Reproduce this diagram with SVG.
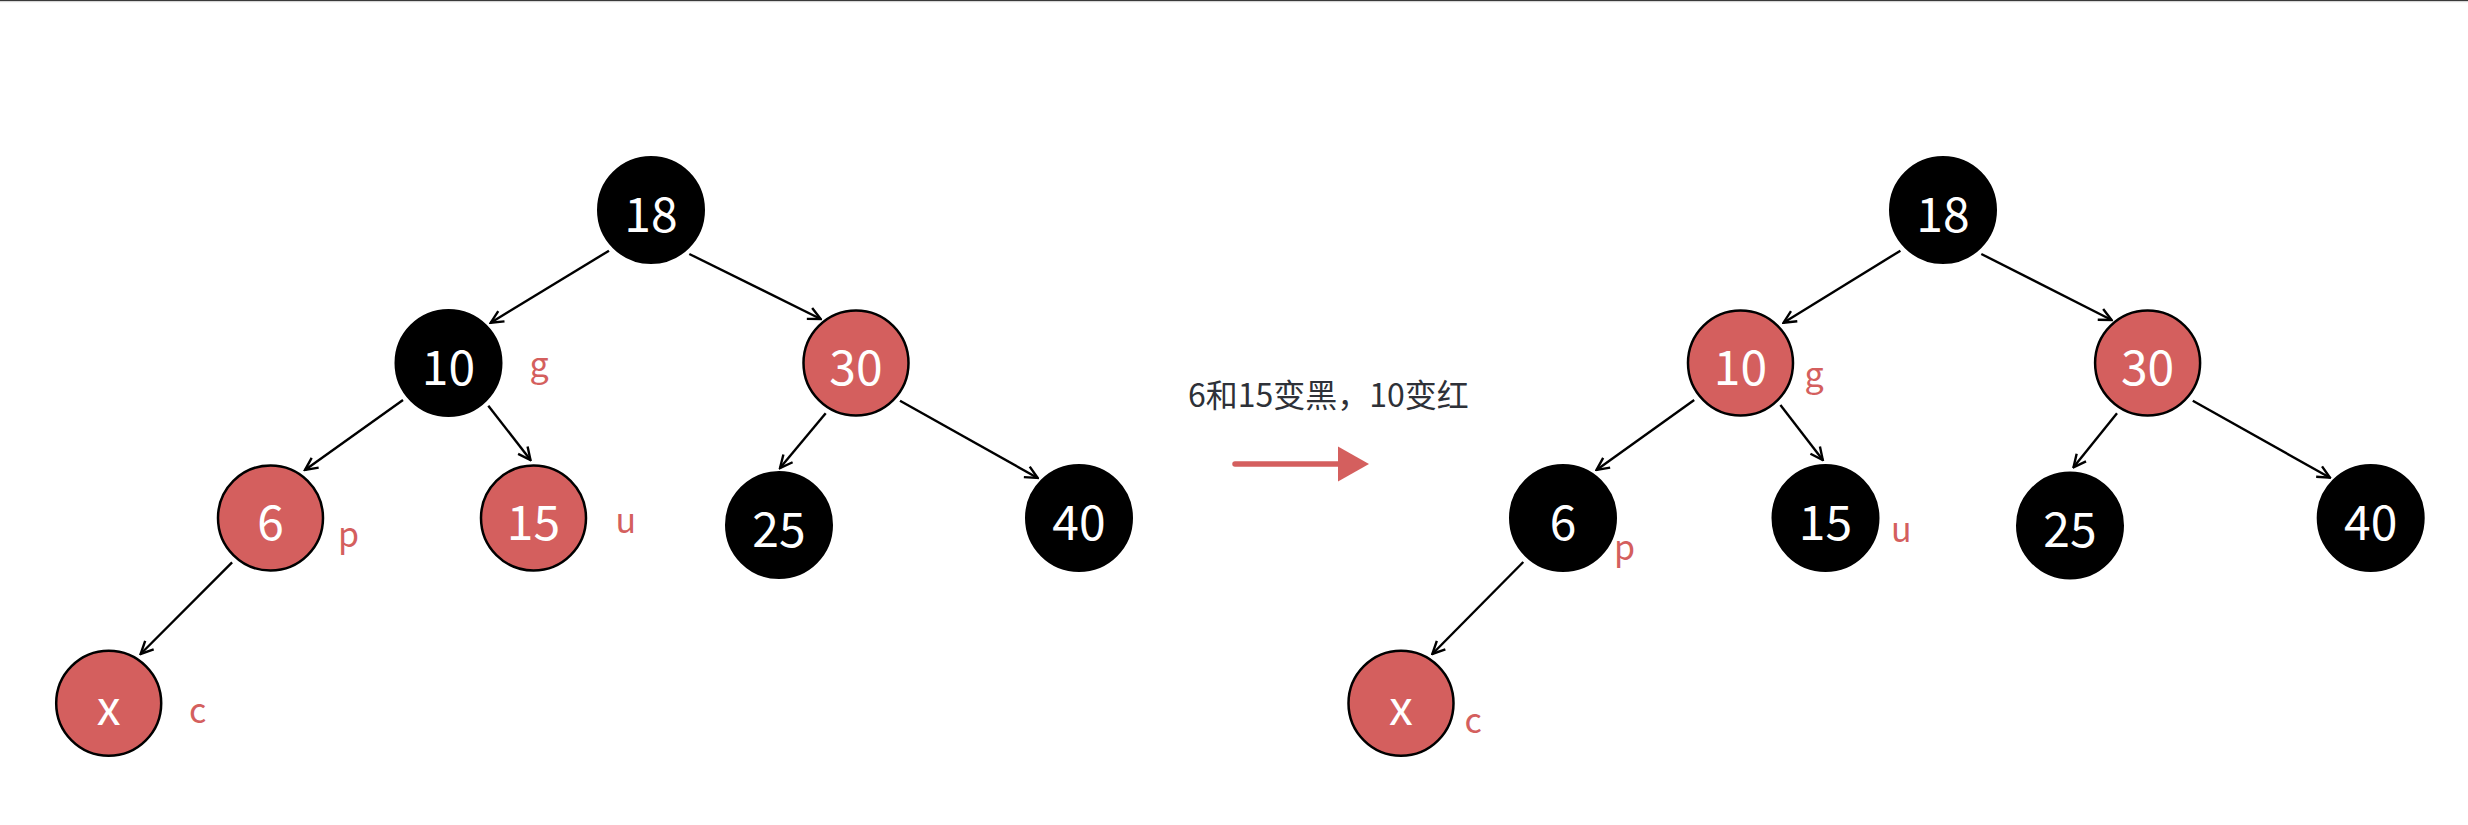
<svg xmlns="http://www.w3.org/2000/svg" width="2468" height="825" viewBox="0 0 2468 825">
<style>
.bg{fill:#ffffff}
.nb{fill:#000000;stroke:#000000;stroke-width:2}
.nr{fill:#d45f5e;stroke:#000000;stroke-width:2.5}
.nt{font-family:"Noto Sans CJK SC","Noto Sans",sans-serif;font-size:48px;fill:#ffffff;text-anchor:middle}
.lb{font-family:"Noto Sans CJK SC","Noto Sans",sans-serif;font-size:34px;fill:#d45f5e}
.edge{stroke:#000000;stroke-width:2.4;fill:none;marker-end:url(#arr)}
.cap{font-family:"Noto Sans CJK SC","Noto Sans",sans-serif;font-size:32px;fill:#2e3138}
</style>
<defs>
<marker id="arr" viewBox="-1 -1 16 15" refX="13.5" refY="6.5" markerWidth="16" markerHeight="15" markerUnits="userSpaceOnUse" orient="auto">
<path d="M1,0.5 L13.5,6.5 L1,12.5" fill="none" stroke="#000000" stroke-width="2.4"/>
</marker>
</defs>
<rect class="bg" x="0" y="0" width="2468" height="825"/>
<rect x="0" y="0" width="2468" height="1.2" fill="#3a3a3a"/>
<rect x="0" y="1.2" width="2468" height="1" fill="#d8d8d8"/>

<g id="connectors">
<line class="edge" x1="609" y1="250.7" x2="490.7" y2="322.7"/>
<line class="edge" x1="689.3" y1="254" x2="820.7" y2="319"/>
<line class="edge" x1="403" y1="400" x2="305" y2="470"/>
<line class="edge" x1="488.3" y1="405.7" x2="530.5" y2="460"/>
<line class="edge" x1="825.7" y1="413.3" x2="780" y2="468"/>
<line class="edge" x1="900" y1="400.7" x2="1037.7" y2="478"/>
<line class="edge" x1="232.1" y1="562.3" x2="140.6" y2="654"/>

<line class="edge" x1="1900.4" y1="250.7" x2="1783.5" y2="322.7"/>
<line class="edge" x1="1981.3" y1="254" x2="2111.6" y2="320"/>
<line class="edge" x1="1694.2" y1="400" x2="1596.5" y2="470"/>
<line class="edge" x1="1780.4" y1="405" x2="1822.8" y2="460"/>
<line class="edge" x1="2117" y1="413.3" x2="2073.5" y2="467.3"/>
<line class="edge" x1="2192.8" y1="400.7" x2="2330" y2="477.7"/>
<line class="edge" x1="1523.3" y1="562" x2="1432.3" y2="654"/>
</g>

<g id="L18"><circle class="nb" cx="651" cy="210" r="53"/><text class="nt" x="651" y="231.5">18</text></g>
<g id="L10"><circle class="nb" cx="448.5" cy="363" r="53"/><text class="nt" x="448.5" y="384.5">10</text><text class="lb" x="529.5" y="377">g</text></g>
<g id="L30"><circle class="nr" cx="856" cy="363" r="52.5"/><text class="nt" x="856" y="384.5">30</text></g>
<g id="L6"><circle class="nr" cx="270.5" cy="518" r="52.5"/><text class="nt" x="270.5" y="539.5">6</text><text class="lb" x="338" y="547">p</text></g>
<g id="L15"><circle class="nr" cx="533.5" cy="518" r="52.5"/><text class="nt" x="533.5" y="539.5">15</text><text class="lb" x="615.5" y="532.5">u</text></g>
<g id="L25"><circle class="nb" cx="779" cy="525" r="53"/><text class="nt" x="779" y="546.5">25</text></g>
<g id="L40"><circle class="nb" cx="1079" cy="518" r="53"/><text class="nt" x="1079" y="539.5">40</text></g>
<g id="Lx"><circle class="nr" cx="108.7" cy="703.3" r="52.5"/><text class="nt" x="108.7" y="725">x</text><text class="lb" x="189" y="722.5">c</text></g>

<g id="caption"><text class="cap" x="1188" y="407">6和15变黑，10变红</text></g>
<g id="transition">
<line x1="1235" y1="464" x2="1341" y2="464" stroke="#d45f5e" stroke-width="5.5" stroke-linecap="round"/>
<polygon points="1338,446.5 1369,464 1338,481.5" fill="#d45f5e"/>
</g>

<g id="R18"><circle class="nb" cx="1943" cy="210" r="53"/><text class="nt" x="1943" y="231.5">18</text></g>
<g id="R10"><circle class="nr" cx="1740.5" cy="363" r="52.5"/><text class="nt" x="1740.5" y="384.5">10</text><text class="lb" x="1804.5" y="387">g</text></g>
<g id="R30"><circle class="nr" cx="2147.6" cy="363" r="52.5"/><text class="nt" x="2147.6" y="384.5">30</text></g>
<g id="R6"><circle class="nb" cx="1563" cy="518" r="53"/><text class="nt" x="1563" y="539.5">6</text><text class="lb" x="1614" y="559.5">p</text></g>
<g id="R15"><circle class="nb" cx="1825.5" cy="518" r="53"/><text class="nt" x="1825.5" y="539.5">15</text><text class="lb" x="1891" y="541.5">u</text></g>
<g id="R25"><circle class="nb" cx="2070" cy="525.5" r="53"/><text class="nt" x="2070" y="547">25</text></g>
<g id="R40"><circle class="nb" cx="2370.7" cy="518" r="53"/><text class="nt" x="2370.7" y="539.5">40</text></g>
<g id="Rx"><circle class="nr" cx="1401" cy="703.3" r="52.5"/><text class="nt" x="1401" y="725">x</text><text class="lb" x="1464.5" y="732.5">c</text></g>
</svg>
